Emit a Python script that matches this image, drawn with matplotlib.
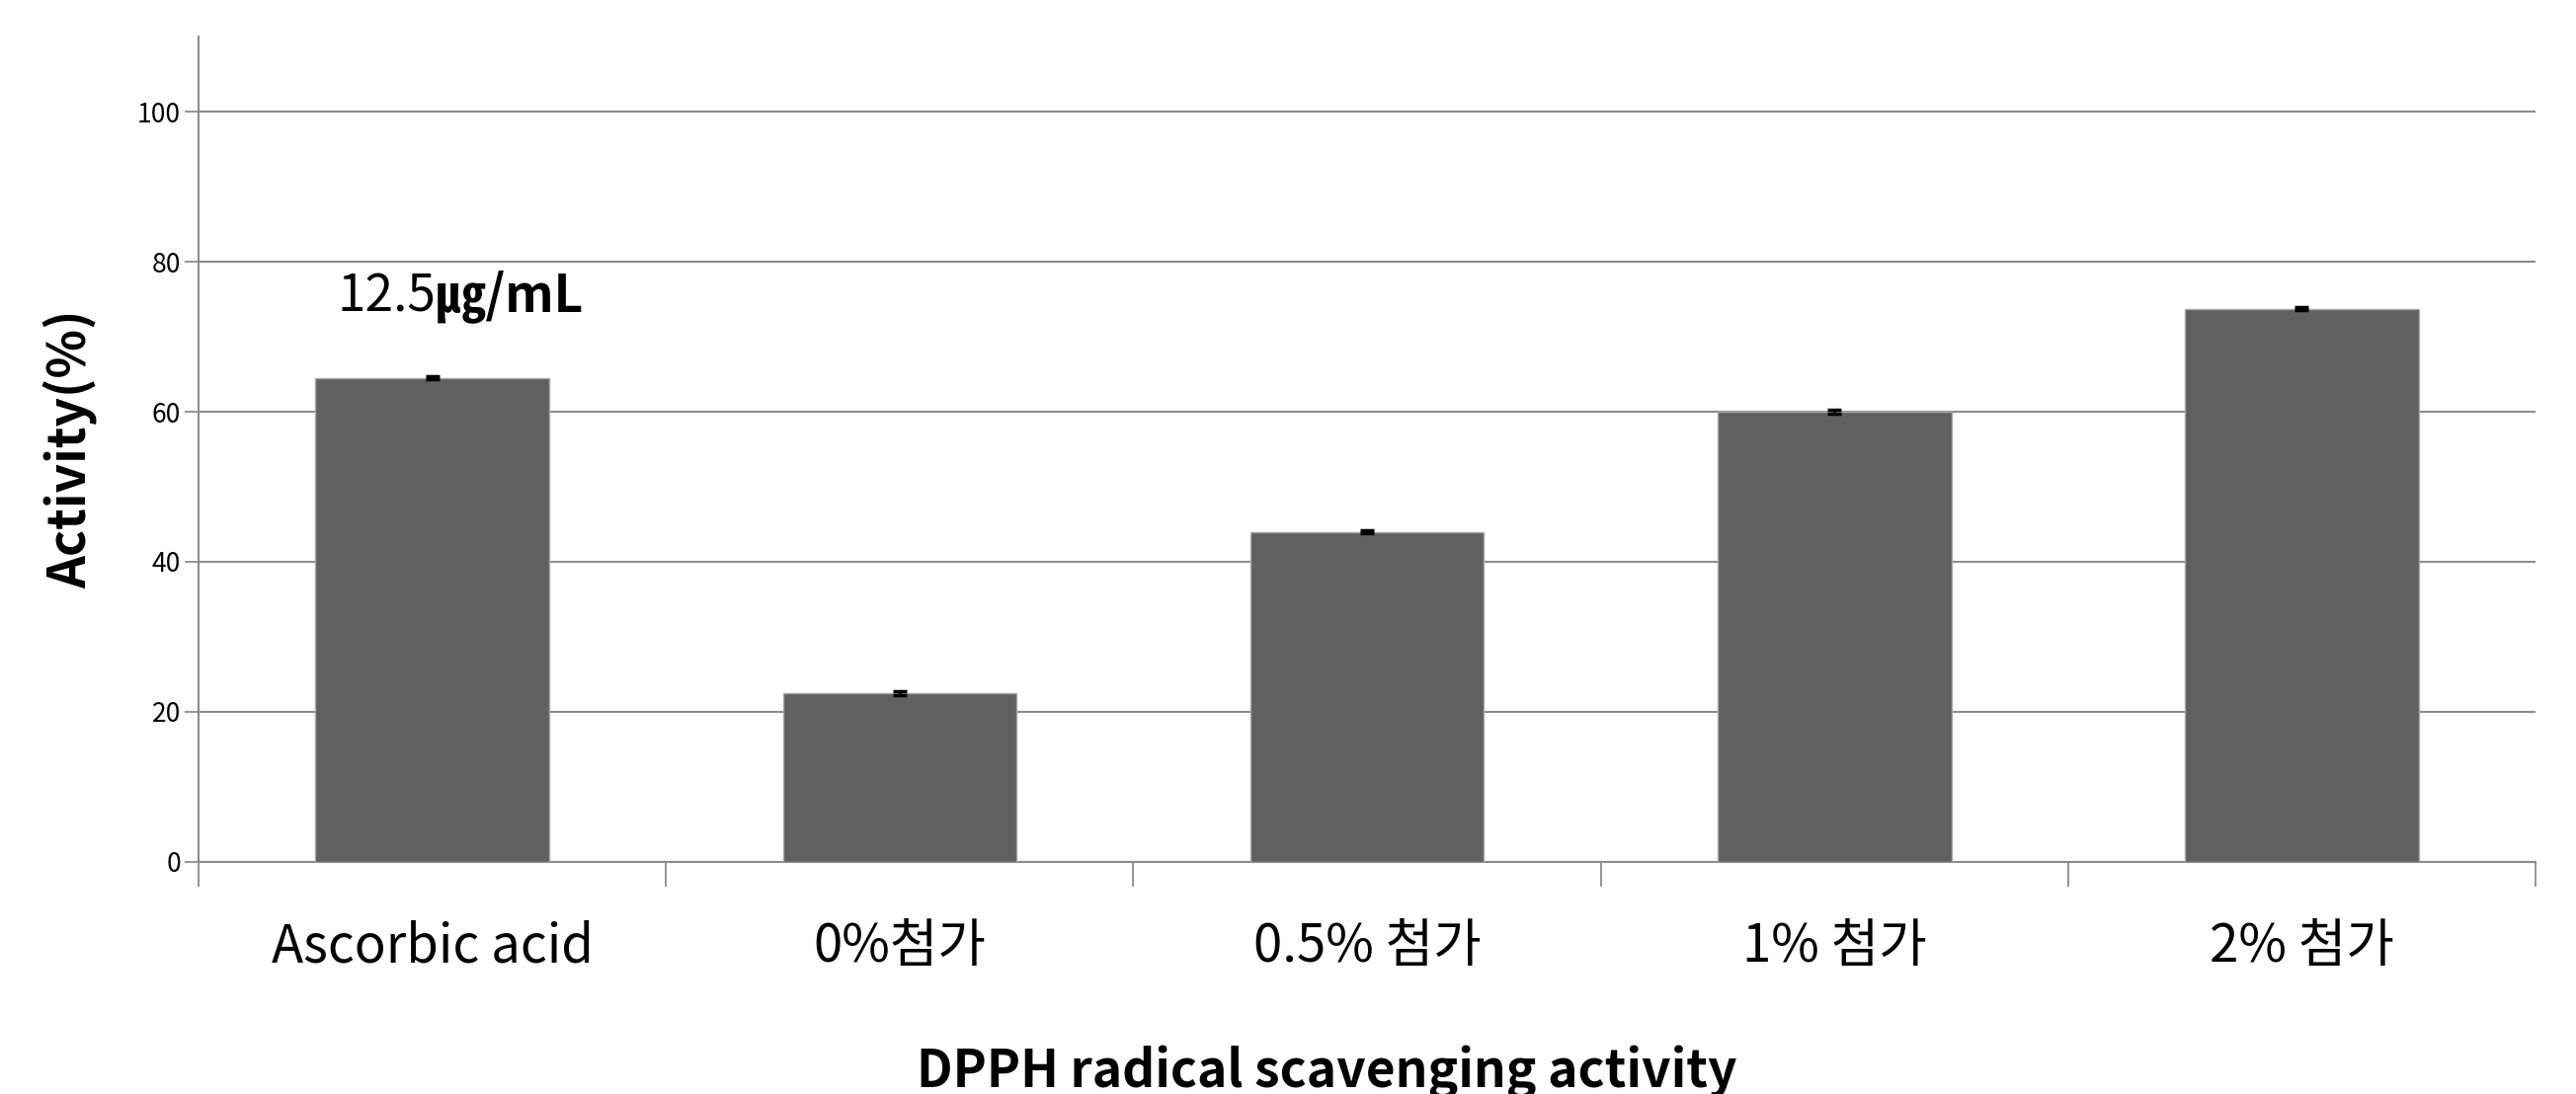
import numpy as np
from matplotlib import pyplot as plt
from matplotlib.ticker import FixedLocator

plt.rcParams['font.family'] = ['Noto Sans CJK KR', 'DejaVu Sans']

groups = ['Ascorbic acid', '0%첨가', '0.5% 첨가', '1% 첨가', '2% 첨가']
activity = [64.5, 22.5, 44.0, 60.0, 73.7]
errors = [0.2, 0.2, 0.2, 0.2, 0.2]
yticks = [0, 20, 40, 60, 80, 100]

grid_col = '#8c8c8c'
bar_col = '#606060'

fig = plt.figure(figsize=(26.08, 11.08), dpi=100)
ax = fig.add_axes([0.0771, 0.2121, 0.9072, 0.7545])

x = np.arange(len(groups))
ax.bar(x, activity, width=0.5, color=bar_col, edgecolor='#a8a8a8', linewidth=1, zorder=3)
ax.errorbar(x, activity, yerr=errors, fmt='none', ecolor='black', elinewidth=2,
            capsize=5, capthick=2.5, zorder=4)

ax.set_xlim(-0.5, len(groups) - 0.5)
ax.set_ylim(0, 110)
ax.set_yticks(yticks)
ax.tick_params(axis='y', labelsize=19, length=10, color=grid_col, width=1.3, pad=3)
ax.yaxis.grid(True, color=grid_col, linewidth=1.5, zorder=0)

ax.set_xticks(x)
ax.set_xticklabels(groups, fontsize=38)
ax.tick_params(axis='x', which='major', length=0, pad=42)
ax.xaxis.set_minor_locator(FixedLocator(np.arange(-0.5, len(groups), 1.0)))
ax.tick_params(axis='x', which='minor', length=18, color=grid_col, width=1.3)

for s in ['top', 'right']:
    ax.spines[s].set_visible(False)
for s in ['left', 'bottom']:
    ax.spines[s].set_color(grid_col)
    ax.spines[s].set_linewidth(1.5)

ax.set_xlabel('DPPH radical scavenging activity', fontsize=37, fontweight='bold', va='baseline')
ax.xaxis.set_label_coords(0.4827, -0.273)
ax.set_ylabel('Activity(%)', fontsize=37, fontweight='bold', va='center')
ax.yaxis.set_label_coords(-0.0545, 0.5)

t1 = ax.text(-0.204, 73.4, '12.5', fontsize=37, ha='left', va='baseline')
ax.annotate('㎍/mL', xy=(1, 0), xycoords=t1, fontsize=37, fontweight='bold',
            ha='left', va='bottom')

fig.savefig('out.png', dpi=100)
